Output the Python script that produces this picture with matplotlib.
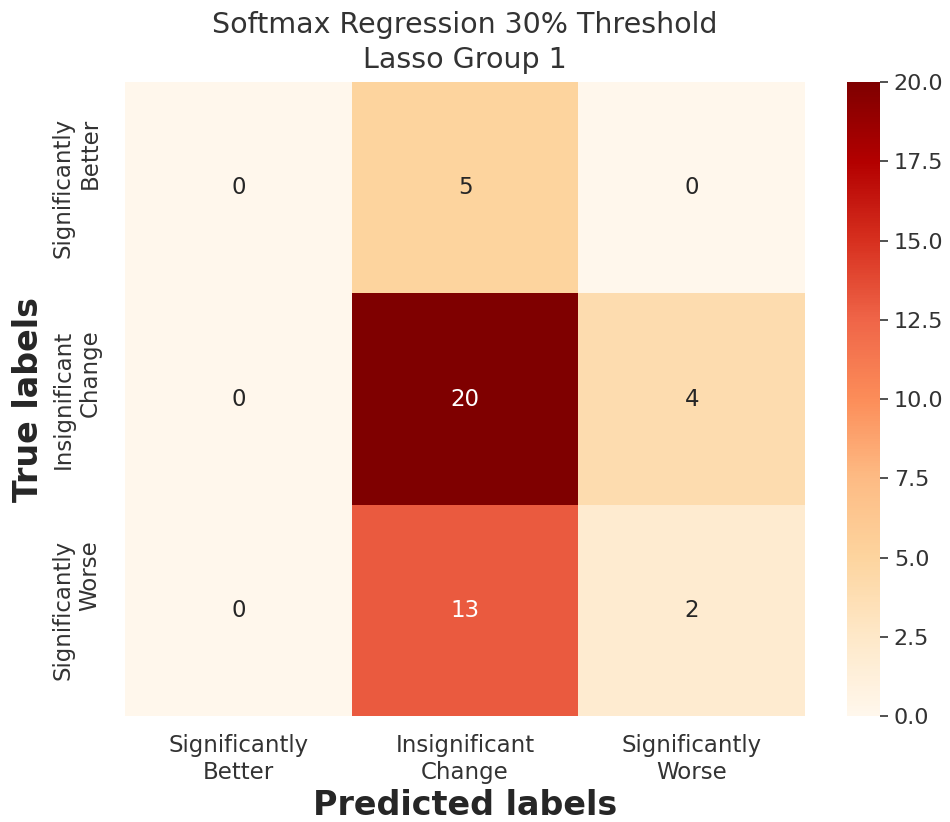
import matplotlib
matplotlib.use("Agg")
import matplotlib.pyplot as plt
import seaborn as sns
import numpy as np

# Confusion matrix counts (rows: true, cols: predicted)
class_names = ["Significantly\nBetter", "Insignificant\nChange", "Significantly\nWorse"]
row_better = [0, 5, 0]
row_insig = [0, 20, 4]
row_worse = [0, 13, 2]
cbar_ticks = [0, 2.5, 5, 7.5, 10, 12.5, 15, 17.5, 20]

TEXT_GREY = "#333333"


def plot_confusion(save_path="out.png"):
    sns.set_theme(style="white")
    plt.rcParams["font.family"] = ["DejaVu Sans"]
    cm = np.array([row_better, row_insig, row_worse])

    fig = plt.figure(figsize=(9.5, 8.22), dpi=100)
    ax = fig.add_axes([0.1316, 0.129, 0.716, 0.771])
    cax = fig.add_axes([0.8916, 0.129, 0.0347, 0.771])
    sns.heatmap(cm, annot=True, fmt="d", cmap="OrRd", ax=ax, cbar_ax=cax,
                annot_kws={"size": 16.5})

    ax.set_title("Softmax Regression 30% Threshold\nLasso Group 1", fontsize=20.5,
                 pad=10, linespacing=1.33, color=TEXT_GREY)
    ax.set_xlabel("Predicted labels", fontsize=24, fontweight="bold", labelpad=4)
    ax.set_ylabel("True labels", fontsize=24, fontweight="bold", labelpad=5)
    ax.set_xticklabels(class_names, fontsize=16.5, color=TEXT_GREY)
    ax.set_yticklabels(class_names, fontsize=16.5, rotation=90, va="center", color=TEXT_GREY)
    ax.tick_params(axis="x", length=0, pad=13)
    ax.tick_params(axis="y", length=0, pad=17)

    cax.set_yticks(cbar_ticks)
    cax.set_yticklabels([f"{t:.1f}" for t in cbar_ticks], color=TEXT_GREY)
    cax.tick_params(labelsize=16, length=6, width=1.2, color=TEXT_GREY, pad=4)

    fig.savefig(save_path)


if __name__ == "__main__":
    plot_confusion()
